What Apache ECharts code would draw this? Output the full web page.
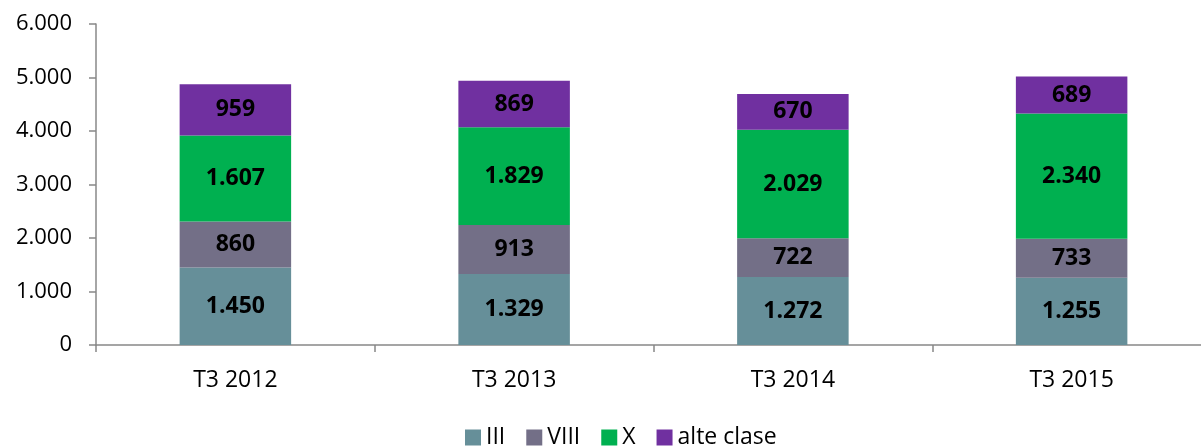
<!DOCTYPE html>
<html>
<head>
<meta charset="utf-8">
<script src="https://cdn.jsdelivr.net/npm/echarts@6/dist/echarts.min.js"></script>
<style>
  html, body { margin: 0; padding: 0; background: #fff; }
  #chart { width: 1201px; height: 446px; }
</style>
</head>
<body>
<div id="chart"></div>
<script>
var categories = ['T3 2012', 'T3 2013', 'T3 2014', 'T3 2015'];
var seriesNames = ['III', 'VIII', 'X', 'alte clase'];
var valIII = [1450, 1329, 1272, 1255];
var valVIII = [860, 913, 722, 733];
var valX = [1607, 1829, 2029, 2340];
var valAlte = [959, 869, 670, 689];
var colors = ['#668F99', '#736F87', '#00B050', '#7030A0'];

// 1450 -> 1.450
function fmt(v) {
    return String(v).replace(/\B(?=(\d{3})+(?!\d))/g, '.');
}

var myChart = echarts.init(document.getElementById('chart'));
var fontFam = 'Open Sans, Liberation Sans, sans-serif';

function makeSeries(name, data, color) {
    return {
        name: name,
        type: 'bar',
        stack: 'total',
        barWidth: '40%',
        data: data,
        itemStyle: { color: color },
        label: {
            show: true,
            position: 'inside',
            color: '#000',
            fontWeight: 'bold',
            fontSize: 23,
            fontFamily: fontFam,
            formatter: function (p) { return fmt(p.value); }
        }
    };
}

var option = {
    animation: false,
    color: colors,
    grid: {
        left: 96, top: 24, width: 1115, height: 321,
        containLabel: false,
        outerBoundsMode: 'none'
    },
    legend: {
        data: seriesNames,
        top: 421,
        left: 460,
        itemWidth: 16,
        itemHeight: 16,
        itemGap: 21,
        icon: 'rect',
        textStyle: { fontSize: 23, color: '#000', fontFamily: fontFam }
    },
    xAxis: {
        type: 'category',
        data: categories,
        axisLine: { lineStyle: { color: '#888', width: 1.5 } },
        axisTick: { show: true, length: 7, lineStyle: { color: '#888', width: 1.5 } },
        axisLabel: { fontSize: 23, color: '#000', margin: 24, fontFamily: fontFam }
    },
    yAxis: {
        type: 'value',
        min: 0,
        max: 6000,
        interval: 1000,
        axisLine: { show: true, lineStyle: { color: '#888', width: 1.5 } },
        axisTick: { show: true, length: 7, lineStyle: { color: '#888', width: 1.5 } },
        splitLine: { show: false },
        axisLabel: {
            fontSize: 22, color: '#000', margin: 24, fontFamily: fontFam,
            formatter: function (v) { return fmt(v); }
        }
    },
    series: [
        makeSeries(seriesNames[0], valIII, colors[0]),
        makeSeries(seriesNames[1], valVIII, colors[1]),
        makeSeries(seriesNames[2], valX, colors[2]),
        makeSeries(seriesNames[3], valAlte, colors[3])
    ]
};

myChart.setOption(option);
</script>
</body>
</html>
